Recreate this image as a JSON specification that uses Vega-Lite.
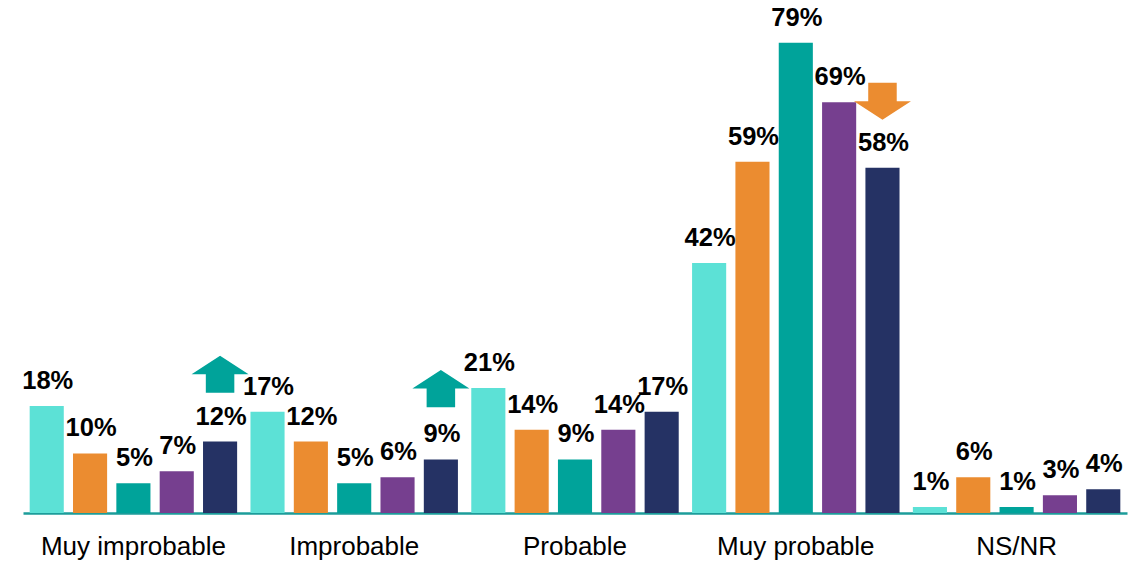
{
  "$schema": "https://vega.github.io/schema/vega-lite/v6.json",
  "width": 1104,
  "height": 513,
  "autosize": "none",
  "padding": {"left": 23, "top": 0, "right": 8, "bottom": 50},
  "background": "white",
  "config": {"view": {"stroke": null}, "font": "Liberation Sans"},
  "datasets": {
    "bars": [
      {"categoria": "Muy improbable", "serie": "Serie 1", "valor": 0.18},
      {"categoria": "Muy improbable", "serie": "Serie 2", "valor": 0.10},
      {"categoria": "Muy improbable", "serie": "Serie 3", "valor": 0.05},
      {"categoria": "Muy improbable", "serie": "Serie 4", "valor": 0.07},
      {"categoria": "Muy improbable", "serie": "Serie 5", "valor": 0.12},
      {"categoria": "Improbable", "serie": "Serie 1", "valor": 0.17},
      {"categoria": "Improbable", "serie": "Serie 2", "valor": 0.12},
      {"categoria": "Improbable", "serie": "Serie 3", "valor": 0.05},
      {"categoria": "Improbable", "serie": "Serie 4", "valor": 0.06},
      {"categoria": "Improbable", "serie": "Serie 5", "valor": 0.09},
      {"categoria": "Probable", "serie": "Serie 1", "valor": 0.21},
      {"categoria": "Probable", "serie": "Serie 2", "valor": 0.14},
      {"categoria": "Probable", "serie": "Serie 3", "valor": 0.09},
      {"categoria": "Probable", "serie": "Serie 4", "valor": 0.14},
      {"categoria": "Probable", "serie": "Serie 5", "valor": 0.17},
      {"categoria": "Muy probable", "serie": "Serie 1", "valor": 0.42},
      {"categoria": "Muy probable", "serie": "Serie 2", "valor": 0.59},
      {"categoria": "Muy probable", "serie": "Serie 3", "valor": 0.79},
      {"categoria": "Muy probable", "serie": "Serie 4", "valor": 0.69},
      {"categoria": "Muy probable", "serie": "Serie 5", "valor": 0.58},
      {"categoria": "NS/NR", "serie": "Serie 1", "valor": 0.01},
      {"categoria": "NS/NR", "serie": "Serie 2", "valor": 0.06},
      {"categoria": "NS/NR", "serie": "Serie 3", "valor": 0.01},
      {"categoria": "NS/NR", "serie": "Serie 4", "valor": 0.03},
      {"categoria": "NS/NR", "serie": "Serie 5", "valor": 0.04}
    ],
    "up": [
      {"categoria": "Muy improbable", "serie": "Serie 5", "valor": 0.233},
      {"categoria": "Improbable", "serie": "Serie 5", "valor": 0.209}
    ],
    "down": [
      {"categoria": "Muy probable", "serie": "Serie 5", "valor": 0.692}
    ]
  },
  "encoding": {
    "x": {
      "field": "categoria",
      "type": "nominal",
      "sort": ["Muy improbable", "Improbable", "Probable", "Muy probable", "NS/NR"],
      "scale": {"paddingInner": 0, "paddingOuter": 0},
      "axis": {
        "title": null,
        "ticks": false,
        "labelAngle": 0,
        "labelFontSize": 26,
        "labelLimit": 0,
        "labelColor": "#000000",
        "labelPadding": 20,
        "domainColor": "#1C9C9A",
        "domainWidth": 2.5,
        "grid": false
      }
    },
    "xOffset": {
      "field": "serie",
      "type": "nominal",
      "sort": ["Serie 1", "Serie 2", "Serie 3", "Serie 4", "Serie 5"],
      "scale": {"paddingInner": 0.213, "paddingOuter": 0.154}
    },
    "y": {
      "field": "valor",
      "type": "quantitative",
      "scale": {"domain": [0, 0.862], "nice": false, "zero": true},
      "axis": null
    }
  },
  "layer": [
    {
      "data": {"name": "bars"},
      "mark": {"type": "bar"},
      "encoding": {
        "color": {
          "field": "serie",
          "type": "nominal",
          "scale": {
            "domain": ["Serie 1", "Serie 2", "Serie 3", "Serie 4", "Serie 5"],
            "range": ["#5CE1D6", "#EB8C30", "#00A39A", "#763F8F", "#253264"]
          },
          "legend": null
        }
      }
    },
    {
      "data": {"name": "bars"},
      "mark": {"type": "text", "baseline": "alphabetic", "dy": -17, "dx": 1, "fontSize": 25.5, "fontWeight": "bold", "color": "#000000"},
      "encoding": {
        "text": {"field": "valor", "type": "quantitative", "format": ".0%"}
      }
    },
    {
      "data": {"name": "up"},
      "mark": {"type": "point", "shape": "M0,-0.65L1,0L0.5,0L0.5,0.65L-0.5,0.65L-0.5,0L-1,0Z", "filled": true, "size": 3249, "color": "#00A39A", "opacity": 1, "strokeWidth": 0}
    },
    {
      "data": {"name": "down"},
      "mark": {"type": "point", "shape": "M0,0.65L1,0L0.5,0L0.5,-0.65L-0.5,-0.65L-0.5,0L-1,0Z", "filled": true, "size": 3249, "color": "#EB8C30", "opacity": 1, "strokeWidth": 0}
    }
  ]
}
